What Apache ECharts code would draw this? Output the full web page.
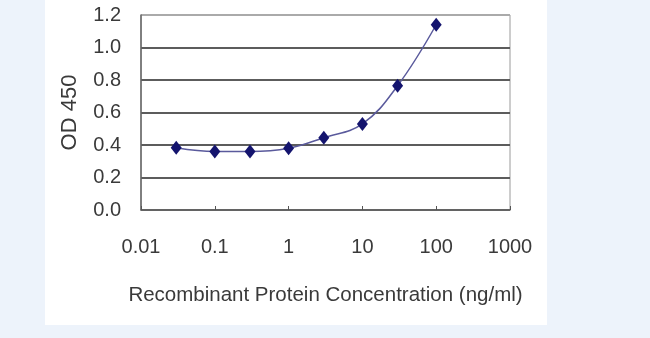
<!DOCTYPE html>
<html>
<head>
<meta charset="utf-8">
<script src="https://cdn.jsdelivr.net/npm/echarts@6/dist/echarts.min.js"></script>
<style>
html,body{margin:0;padding:0;background:#edf3fb;}
#c{width:650px;height:338px;}
</style>
</head>
<body>
<div id="c"></div>
<script>
var concentrations = [0.03, 0.1, 0.3, 1, 3, 10, 30, 100];
var od450 = [0.383, 0.36, 0.36, 0.38, 0.445, 0.53, 0.765, 1.14];
var xTickLabels = ["0.01", "0.1", "1", "10", "100", "1000"];
var yTickLabels = ["0.0", "0.2", "0.4", "0.6", "0.8", "1.0", "1.2"];
var xTitle = "Recombinant Protein Concentration (ng/ml)";
var yTitle = "OD 450";

var points = concentrations.map(function (c, i) { return [c, od450[i]]; });
var fontFam = '"Liberation Sans", Arial, sans-serif';
var chart = echarts.init(document.getElementById('c'), null, {renderer: 'canvas'});
chart.setOption({
  animation: false,
  backgroundColor: '#edf3fb',
  graphic: [{
    type: 'rect', z: -10, silent: true,
    shape: {x: 45, y: 0, width: 502, height: 325},
    style: {fill: '#ffffff'}
  }],
  grid: {left: 141, right: 140, top: 15, bottom: 128, show: true, borderColor: '#9a9a9a', borderWidth: 1, backgroundColor: 'transparent'},
  xAxis: {
    type: 'log', logBase: 10, min: 0.01, max: 1000,
    name: xTitle, nameLocation: 'middle', nameGap: 75,
    nameTextStyle: {fontSize: 20.5, color: '#3a3a3a', fontFamily: fontFam},
    axisLine: {lineStyle: {color: '#666', width: 1.5}},
    axisTick: {show: true, inside: true, length: 4, lineStyle: {color: '#555'}},
    minorTick: {show: false},
    splitLine: {show: false},
    axisLabel: {
      margin: 27, fontSize: 20, color: '#3a3a3a', fontFamily: fontFam,
      formatter: function (v) {
        var idx = Math.round(Math.log10(v)) + 2;
        return xTickLabels[idx] !== undefined ? xTickLabels[idx] : '';
      }
    }
  },
  yAxis: {
    type: 'value', min: 0, max: 1.2, interval: 0.2,
    name: yTitle, nameLocation: 'middle', nameGap: 60,
    nameTextStyle: {fontSize: 22, color: '#3a3a3a', fontFamily: fontFam},
    axisLine: {show: true, lineStyle: {color: '#666', width: 1.5}},
    axisTick: {show: false},
    splitLine: {show: true, lineStyle: {color: ['#5c5c5c','#5c5c5c','#5c5c5c','#5c5c5c','#5c5c5c','#5c5c5c','#aaaaaa'], width: 2}},
    axisLabel: {
      margin: 20, fontSize: 20, color: '#3a3a3a', fontFamily: fontFam,
      formatter: function (v) { return yTickLabels[Math.round(v / 0.2)]; }
    }
  },
  series: [{
    type: 'line',
    data: points,
    smooth: 0.4,
    symbol: 'diamond',
    symbolSize: [11, 14],
    itemStyle: {color: '#14146e'},
    lineStyle: {color: '#5a5a9c', width: 1.5}
  }]
});
</script>
</body>
</html>
